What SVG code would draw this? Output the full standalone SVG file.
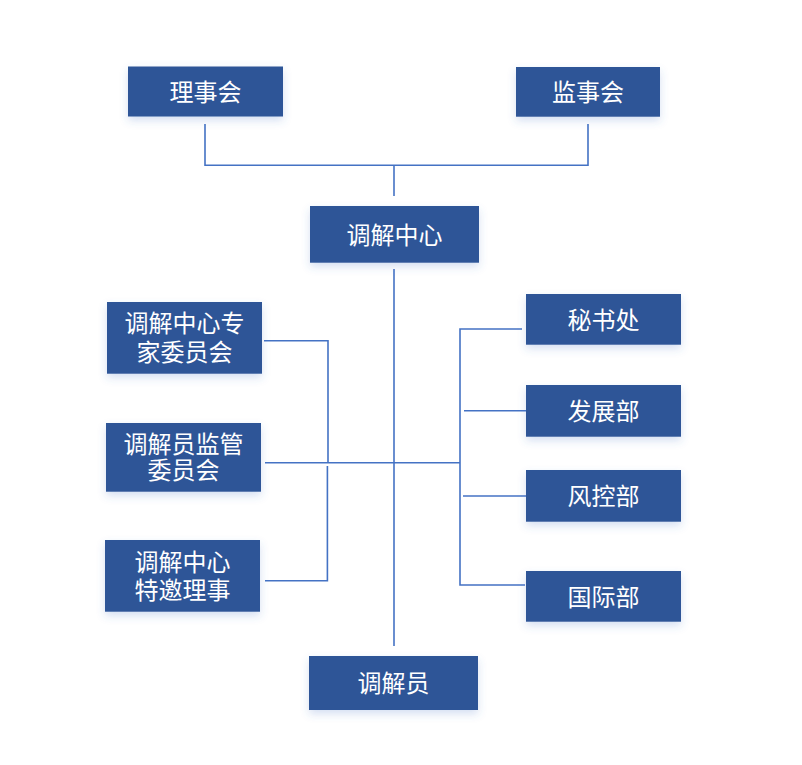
<svg xmlns="http://www.w3.org/2000/svg" width="802" height="765" viewBox="0 0 802 765">
<defs>
<style>
.box{fill:#2e5597;filter:url(#sh);}
.t{fill:#ffffff;font-family:"Noto Sans CJK SC","Noto Sans",sans-serif;font-size:24px;text-anchor:middle;}
.ln{fill:none;stroke:#4472c4;stroke-width:1.6;}
</style>
<filter id="sh" x="-20%" y="-30%" width="140%" height="180%">
<feDropShadow dx="0" dy="4" stdDeviation="4" flood-color="#4472c4" flood-opacity="0.22"/>
</filter>
</defs>
<rect width="802" height="765" fill="#ffffff"/>
<g id="connectors">
<path class="ln" d="M205,124 V165.3 H588 V124"/>
<path class="ln" d="M394,165.3 V196"/>
<path class="ln" d="M394,269 V646"/>
<path class="ln" d="M264,340.7 H328 V462.7"/>
<path class="ln" d="M265,462.7 H460"/>
<path class="ln" d="M265,580.7 H327.4 V466"/>
<path class="ln" d="M522,329 H460 V585 H525"/>
<path class="ln" d="M464,410.7 H526"/>
<path class="ln" d="M463,496 H526"/>
</g>
<g id="lishihui"><rect class="box" x="128" y="66.5" width="155" height="50"/><text class="t" x="205.5" y="100.5">理事会</text></g>
<g id="jianshihui"><rect class="box" x="516" y="67" width="144" height="49.7"/><text class="t" x="588" y="101">监事会</text></g>
<g id="tiaojiezhongxin"><rect class="box" x="310" y="206" width="169" height="56.7"/><text class="t" x="394.5" y="243.5">调解中心</text></g>
<g id="zhuanjia"><rect class="box" x="107" y="302" width="155" height="71.7"/><text class="t" x="184.5" y="332">调解中心专</text><text class="t" x="184.5" y="361">家委员会</text></g>
<g id="jianguan"><rect class="box" x="106" y="423" width="155" height="68.7"/><text class="t" x="183.5" y="453">调解员监管</text><text class="t" x="183.5" y="479">委员会</text></g>
<g id="teyao"><rect class="box" x="105" y="540" width="155" height="71.7"/><text class="t" x="182.5" y="570.5">调解中心</text><text class="t" x="182.5" y="599">特邀理事</text></g>
<g id="mishuchu"><rect class="box" x="526" y="294" width="155" height="50.7"/><text class="t" x="603.5" y="328.5">秘书处</text></g>
<g id="fazhanbu"><rect class="box" x="526" y="385" width="155" height="51.7"/><text class="t" x="603.5" y="420">发展部</text></g>
<g id="fengkongbu"><rect class="box" x="526" y="470" width="155" height="51.7"/><text class="t" x="603.5" y="505">风控部</text></g>
<g id="guojibu"><rect class="box" x="526" y="571" width="155" height="50.7"/><text class="t" x="603.5" y="605.5">国际部</text></g>
<g id="tiaojieyuan"><rect class="box" x="309" y="656" width="169" height="54"/><text class="t" x="393.5" y="692">调解员</text></g>
</svg>
